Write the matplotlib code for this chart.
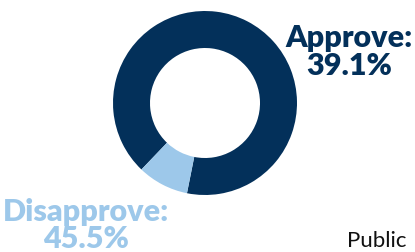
import matplotlib
matplotlib.use("Agg")
import matplotlib.pyplot as plt

# Data
labels = ["Approve", "Disapprove"]
label_values = [39.1, 45.5]          # percentages printed in the labels
slice_shares = [91.0, 9.0]           # share of the ring each colour fills
colors = ["#03305a", "#9dc8ea"]

W, H = 415, 253
fig = plt.figure(figsize=(W / 100, H / 100), dpi=100)
ax = fig.add_axes([0, 0, 1, 1])

# Donut
ax.pie(slice_shares, colors=colors, center=(205, H - 104), radius=92,
       startangle=258.7, counterclock=True,
       wedgeprops=dict(width=37, linewidth=0), frame=True)
ax.set_xlim(0, W)
ax.set_ylim(0, H)
ax.set_aspect("equal")
ax.axis("off")

font = ["Lato", "DejaVu Sans"]
big = dict(fontsize=22, fontweight="heavy", family=font, va="baseline",
           ha="center", multialignment="center")

# Labels (two lines each)
ax.text(349, H - 75, f"{labels[0]}:\n{label_values[0]}%", color=colors[0],
        linespacing=1.0, **big)
ax.text(86, H - 248, f"{labels[1]}:\n{label_values[1]}%", color=colors[1],
        linespacing=0.95, **big)

ax.text(347, H - 247, "Public", ha="left", va="baseline",
        fontsize=16, color="#111111", family=font)

fig.savefig("out.png", dpi=100)
